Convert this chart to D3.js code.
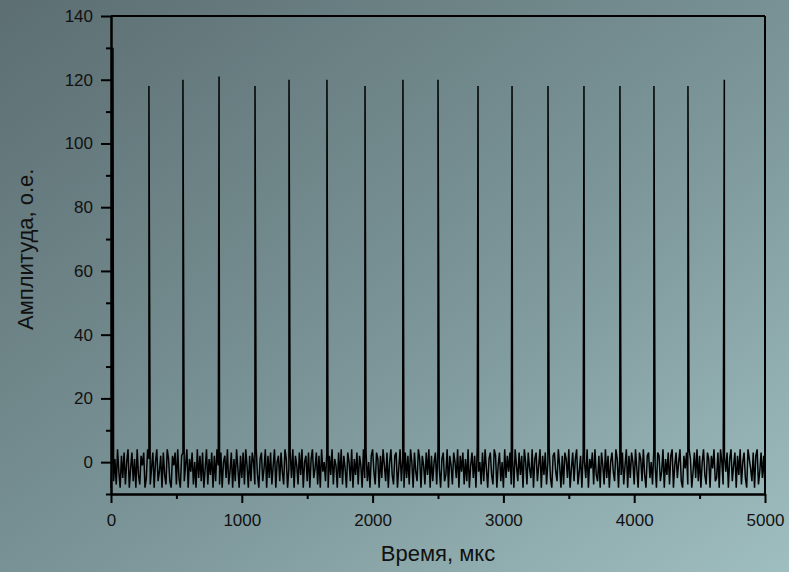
<!DOCTYPE html>
<html>
<head>
<meta charset="utf-8">
<script src="https://cdn.jsdelivr.net/npm/d3@7"></script>
<style>
  html, body { margin: 0; padding: 0; }
  body { width: 789px; height: 572px; overflow: hidden; }
  text { font-family: "Liberation Sans", Arial, sans-serif; fill: #111; }
</style>
</head>
<body>
<div id="chart"></div>
<script>
// sampled baseline noise, one value every 10 us from 0 to 5000
var noiseStep = 10;
var noise = [
  -8, 3, -6, 1, -7, 4, -3, -8, 2, -5, 3, -7, 0, 4, -8, -2, 3, -6, 1, -8, 4, -4, -7, 2, -1,
  3, -8, -5, 4, 1, -7, -2, 3, -8, 0, 4, -6, -3, 2, -8, 3, -4, -7, 4, 1, -6, -8, 2, -1, 3,
  -7, 4, -5, -8, 2, 3, -6, -1, 4, -8, 1, -3, 3, -7, 0, -8, 4, -5, 2, -6, 3, -8, -2, 4, -7,
  1, -4, 3, -8, 2, -6, 4, -1, -7, 3, -8, 0, 2, -5, 4, -7, -3, 3, -8, 1, -6, 4, -2, -8, 2,
  -5, 3, -7, 4, -1, -8, 2, -6, 3, 0, -7, 4, -4, -8, 1, 3, -6, -2, 4, -8, 2, -5, 3, -7, -1,
  4, -8, 0, 2, -6, 3, -3, -7, 4, 1, -8, -2, 3, -5, 4, -8, 2, -1, -7, 3, -4, 4, -8, 0, 2,
  -6, 3, -8, 1, 4, -5, -2, 3, -7, 2, -8, 4, -3, 0, -6, 3, -8, 2, -4, 4, -7, 1, -1, -8, 3,
  -5, 4, -7, 2, -2, -8, 3, 0, -6, 4, -8, 1, -4, 3, -7, 2, -1, -8, 4, -5, 3, -6, 0, -8, 2,
  4, -3, -7, 3, 1, -8, 2, -5, 4, -1, -6, 3, -8, 0, 4, -4, -7, 2, 3, -8, -2, 4, -6, 1, -8,
  3, -5, 2, -7, 4, 0, -8, 3, -3, -6, 4, 1, -8, 2, -1, -7, 3, -4, 4, -8, 2, -6, 0, 3, -7,
  4, -2, -8, 1, 3, -6, -4, 4, -8, 2, -1, -7, 3, 0, -5, 4, -8, 2, -3, 3, -7, 1, -6, 4, -8,
  -1, 3, -5, 2, -8, 4, -3, 0, -7, 3, -6, 4, -2, -8, 1, 3, -4, -7, 4, 2, -8, -1, 3, -6, 0,
  -8, 4, -5, 2, -3, 3, -7, 1, -8, 4, -1, -6, 3, -4, 2, -8, 4, 0, -7, 3, -2, -5, 4, -8, 1,
  3, -6, -1, 4, -8, 2, -4, 3, -7, 0, 4, -5, -8, 2, 3, -3, -6, 4, -1, -8, 2, -7, 3, 1, -5,
  4, -8, -2, 3, -6, 1, 4, -7, -3, 2, -8, 3, 0, -5, 4, -8, 1, -2, 3, -7, 4, -4, -6, 2, -8,
  3, -1, -7, 4, -5, 2, -8, 0, 3, -3, -6, 4, 1, -8, 2, -4, 3, -7, -1, 4, -8, 2, -5, 3, 0,
  -7, 4, -2, -8, 3, 1, -6, 4, -4, -8, 2, 3, -5, 0, -7, 4, -1, -8, 3, 2, -6, -3, 4, -8, 1,
  -4, 3, -7, 2, 4, -8, -1, 3, -5, 0, 4, -6, -8, 2, -2, 3, -7, 4, 1, -8, -3, 3, -5, 4, -6,
  2, -8, 0, 4, -4, -7, 3, 1, -8, 2, -2, 4, -6, -5, 3, -8, 4, 0, -7, 2, -3, 3, -8, 1, 4,
  -6, -1, 3, -8, 2, -4, 4, -7, 0, 3, -5, -8, 4, 1, -2, -6, 3, -8, 2, 4, -7, -3, 3, -5, 2, -8
];

// pulse peaks
var peakTimes = [15, 290, 550, 826, 1101, 1361, 1651, 1942, 2232, 2500, 2806, 3066, 3341, 3616, 3891, 4151, 4411, 4689];
var peakAmps  = [130, 118, 120, 121, 118, 120, 120, 118, 120, 120, 118, 118, 118, 118, 118, 118, 118, 120];

var xTicks = [0, 1000, 2000, 3000, 4000, 5000];
var xMinor = [500, 1500, 2500, 3500, 4500];
var yTicks = [0, 20, 40, 60, 80, 100, 120, 140];
var yMinor = [-10, 10, 30, 50, 70, 90, 110, 130];

var W = 789, H = 572;
var margin = {top: 16, right: 24, bottom: 78, left: 111};
var width = 765 - margin.left, height = 494 - margin.top;

var svg = d3.select("#chart").append("svg")
  .attr("width", W)
  .attr("height", H);

// background gradient
var grad = svg.append("defs").append("linearGradient")
  .attr("id", "bg")
  .attr("x1", "0%").attr("y1", "0%")
  .attr("x2", "100%").attr("y2", "100%");
grad.append("stop").attr("offset", "0%").attr("stop-color", "#5c6e72");
grad.append("stop").attr("offset", "55%").attr("stop-color", "#7b9598");
grad.append("stop").attr("offset", "100%").attr("stop-color", "#9fbec0");
svg.append("rect").attr("width", W).attr("height", H).attr("fill", "url(#bg)");

var g = svg.append("g").attr("transform", "translate(" + margin.left + "," + margin.top + ")");

var x = d3.scaleLinear().domain([0, 5000]).range([0, width]);
var y = d3.scaleLinear().domain([-10, 140]).range([height, 0]);

// build signal: noise samples plus peak samples, sorted by time
var data = noise.map(function(v, i) { return {t: i * noiseStep, v: v}; });
peakTimes.forEach(function(t, i) { data.push({t: t, v: peakAmps[i]}); });
data.sort(function(a, b) { return a.t - b.t; });

var line = d3.line()
  .x(function(d) { return x(d.t); })
  .y(function(d) { return y(d.v); });

g.append("path")
  .datum(data)
  .attr("fill", "none")
  .attr("stroke", "#000")
  .attr("stroke-width", 1.5)
  .attr("stroke-linejoin", "bevel")
  .attr("d", line);

// minor ticks
g.append("g")
  .attr("transform", "translate(0," + height + ")")
  .call(d3.axisBottom(x).tickValues(xMinor).tickSize(5).tickSizeOuter(0).tickFormat(""));
g.append("g")
  .call(d3.axisLeft(y).tickValues(yMinor).tickSize(5).tickSizeOuter(0).tickFormat(""));

// major axes
g.append("g")
  .attr("transform", "translate(0," + height + ")")
  .call(d3.axisBottom(x).tickValues(xTicks).tickSize(9).tickSizeOuter(0).tickPadding(11).tickFormat(d3.format("d")));
g.append("g")
  .call(d3.axisLeft(y).tickValues(yTicks).tickSize(10).tickSizeOuter(0).tickPadding(8).tickFormat(d3.format("d")));

// top and right frame lines
g.append("line").attr("x1", 0).attr("x2", width).attr("y1", 0).attr("y2", 0);
g.append("line").attr("x1", width).attr("x2", width).attr("y1", 0).attr("y2", height);

g.selectAll("path.domain, .tick line, line")
  .attr("stroke", "#000")
  .attr("stroke-width", 2);

g.selectAll(".tick text")
  .style("font-size", "17px")
  .style("font-family", "'Liberation Sans', Arial, sans-serif")
  .attr("fill", "#111");

// axis titles
svg.append("text")
  .attr("x", 438)
  .attr("y", 561)
  .attr("text-anchor", "middle")
  .style("font-size", "22px")
  .text("Время, мкс");

svg.append("text")
  .attr("transform", "translate(33,330) rotate(-90)")
  .attr("text-anchor", "start")
  .style("font-size", "22px")
  .text("Амплитуда, о.е.");
</script>
</body>
</html>
